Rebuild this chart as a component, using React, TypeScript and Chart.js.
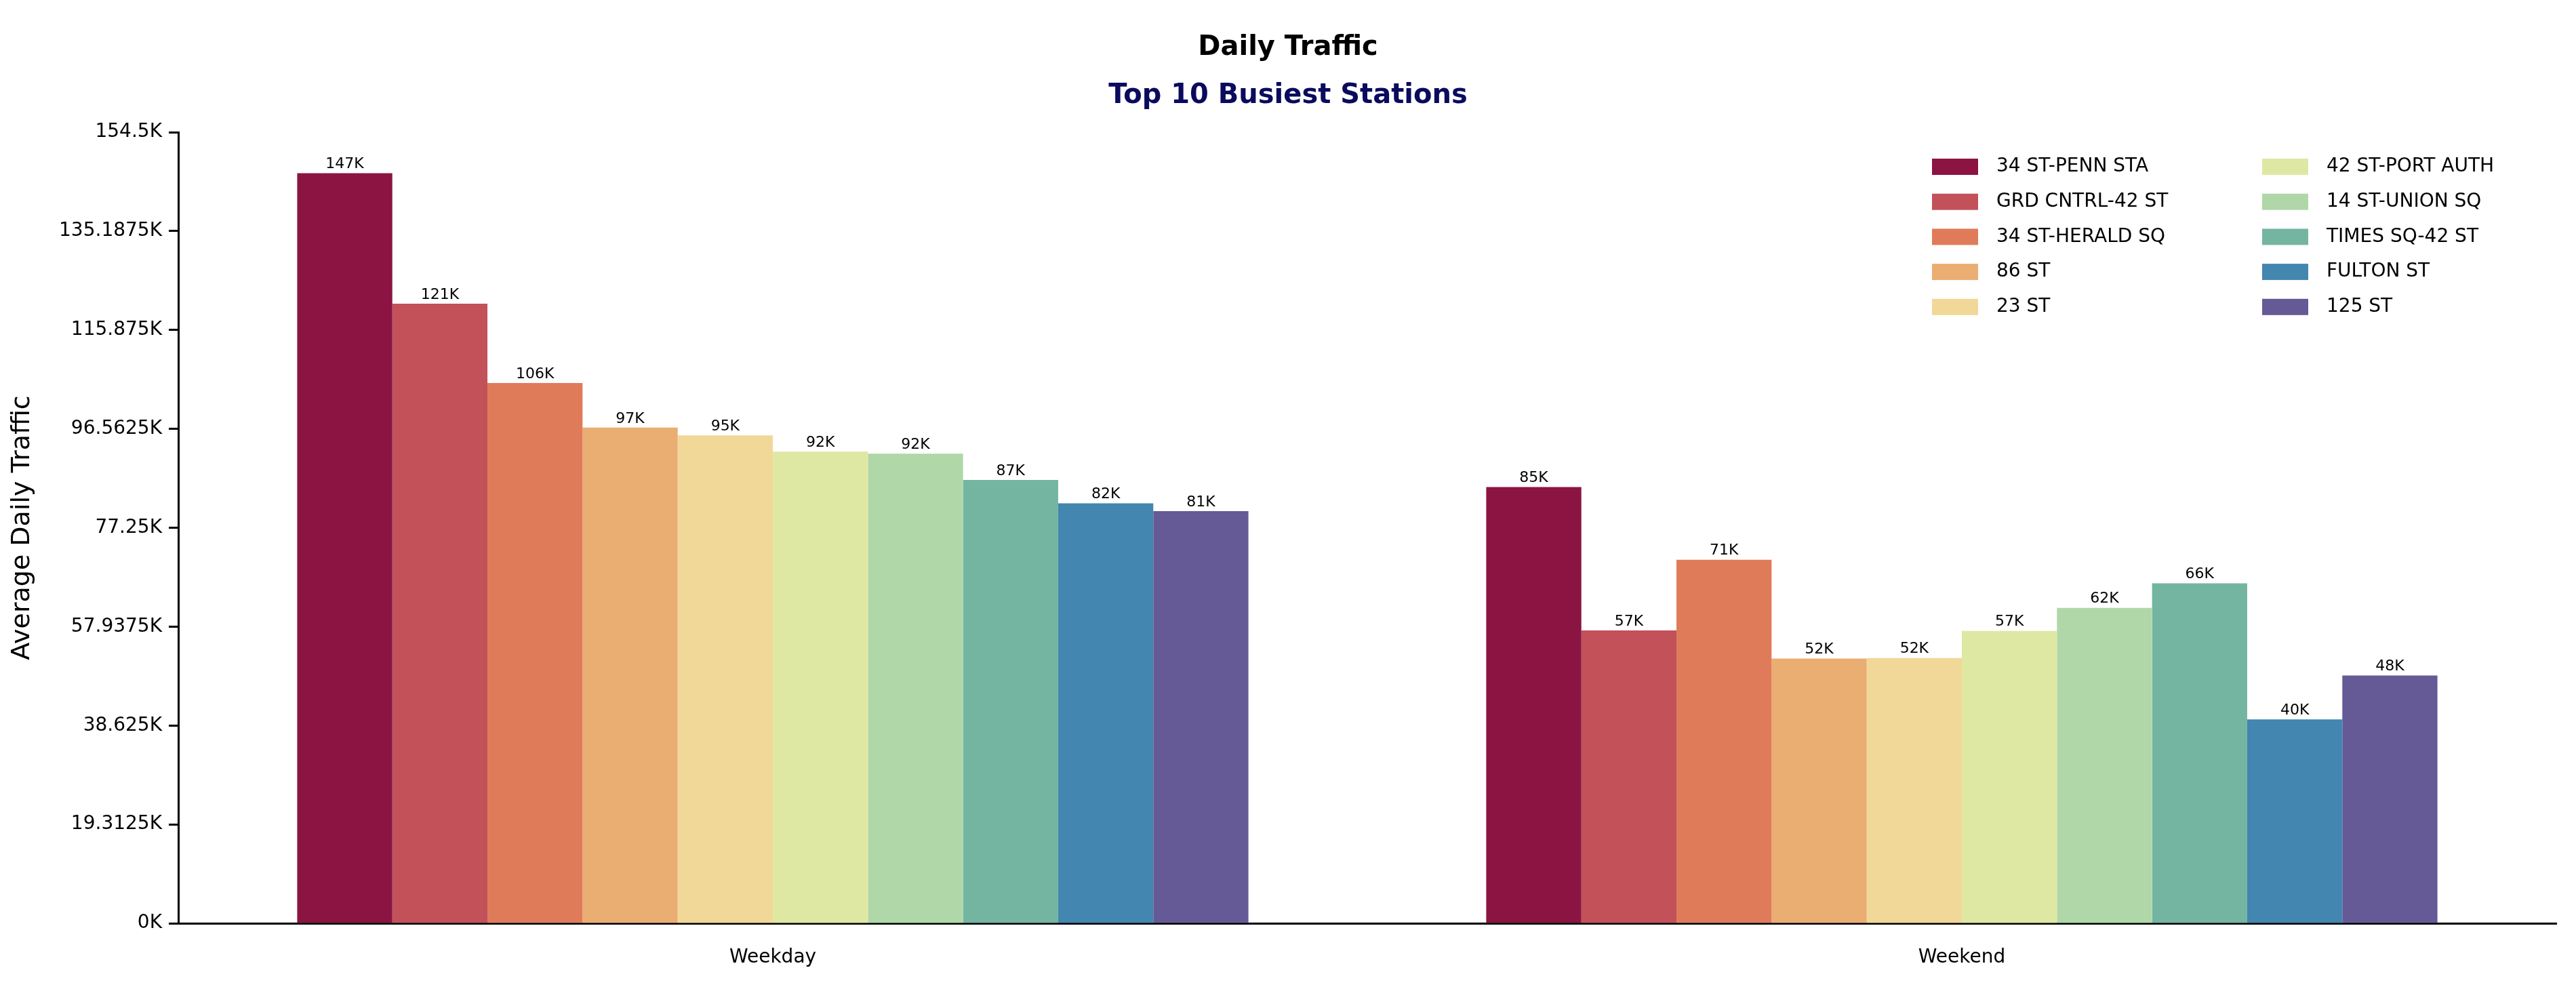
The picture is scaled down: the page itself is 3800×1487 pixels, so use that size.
import { useEffect, useRef } from 'react';
import Chart from 'chart.js/auto';

const periods = ['Weekday', 'Weekend'];
const stations = [
  '34 ST-PENN STA', 'GRD CNTRL-42 ST', '34 ST-HERALD SQ', '86 ST', '23 ST',
  '42 ST-PORT AUTH', '14 ST-UNION SQ', 'TIMES SQ-42 ST', 'FULTON ST', '125 ST',
];
const weekdayTraffic = [146500, 121000, 105500, 96800, 95300, 92100, 91700, 86600, 82000, 80500];
const weekendTraffic = [85200, 57200, 71000, 51700, 51800, 57100, 61600, 66400, 39800, 48400];
const colors = [
  '#8b1443', '#c2515a', '#e07b5a', '#eaad72', '#f1d898',
  '#dfe8a3', '#b0d7a8', '#74b5a2', '#4386af', '#655a96',
];

const FONT = '"DejaVu Sans", sans-serif';

const App = () => {
  const canvasRef = useRef<HTMLCanvasElement | null>(null);
  const chartRef = useRef<Chart | null>(null);

  useEffect(() => {
    document.body.style.margin = '0';
    const ctx = canvasRef.current?.getContext('2d');
    if (!ctx) return;
    if (chartRef.current) chartRef.current.destroy();

    const extras = {
      id: 'extras',
      afterDraw(chart: any) {
        const c = chart.ctx;
        c.save();
        // titles
        c.textAlign = 'center';
        c.textBaseline = 'middle';
        c.fillStyle = '#000';
        c.font = `bold 40px ${FONT}`;
        c.fillText('Daily Traffic', 1900, 71);
        c.fillStyle = '#0a0a5e';
        c.fillText('Top 10 Busiest Stations', 1900, 142);
        // value labels
        c.font = `22px ${FONT}`;
        c.fillStyle = '#000';
        c.textBaseline = 'bottom';
        chart.data.datasets.forEach((ds: any, i: number) => {
          chart.getDatasetMeta(i).data.forEach((bar: any, j: number) => {
            c.fillText(Math.round(ds.data[j] / 1000) + 'K', bar.x, bar.y - 2);
          });
        });
        // legend, two columns
        c.font = `28px ${FONT}`;
        c.textAlign = 'left';
        c.textBaseline = 'middle';
        stations.forEach((s, i) => {
          const col = Math.floor(i / 5);
          const row = i % 5;
          const x = 2850 + col * 487;
          const y = 246 + row * 51.7;
          c.fillStyle = colors[i];
          c.fillRect(x, y - 12, 68, 24);
          c.fillStyle = '#000';
          c.fillText(s, x + 95, y);
        });
        c.restore();
      },
    };

    chartRef.current = new Chart(ctx, {
      type: 'bar',
      data: {
        labels: periods,
        datasets: stations.map((s, i) => ({
          label: s,
          data: [weekdayTraffic[i], weekendTraffic[i]],
          backgroundColor: colors[i],
          categoryPercentage: 0.8,
          barPercentage: 1,
        })),
      },
      options: {
        animation: false,
        responsive: false,
        layout: { padding: { top: 195, right: 29, left: 0, bottom: 0 } },
        plugins: { legend: { display: false }, tooltip: { enabled: false } },
        scales: {
          x: {
            grid: { display: false, drawOnChartArea: false, drawTicks: true, tickLength: 14, tickWidth: 3, color: '#000' },
            border: { display: true, color: '#000', width: 3 },
            ticks: { color: '#000', font: { family: FONT, size: 28 }, padding: 20 },
            afterFit: (s: any) => { s.height = 125; },
          },
          y: {
            min: 0,
            max: 154500,
            grid: { drawOnChartArea: false, drawTicks: true, tickLength: 14, tickWidth: 3, color: '#000' },
            border: { display: true, color: '#000', width: 3 },
            ticks: {
              stepSize: 20000,
              color: '#000',
              font: { family: FONT, size: 28 },
              padding: 10,
              callback: (v: any) => v / 1000 + 'K',
            },
            title: { display: true, text: 'Average Daily Traffic', color: '#000', font: { family: FONT, size: 38 }, padding: 10 },
            afterFit: (s: any) => { s.width = 263; },
          },
        },
      },
      plugins: [extras],
    });

    return () => {
      chartRef.current?.destroy();
      chartRef.current = null;
    };
  }, []);

  return (
    <div style={{ width: 3800, height: 1487, position: 'relative', background: '#fff' }}>
      <canvas ref={canvasRef} width={3800} height={1487} />
    </div>
  );
};

export default App;
